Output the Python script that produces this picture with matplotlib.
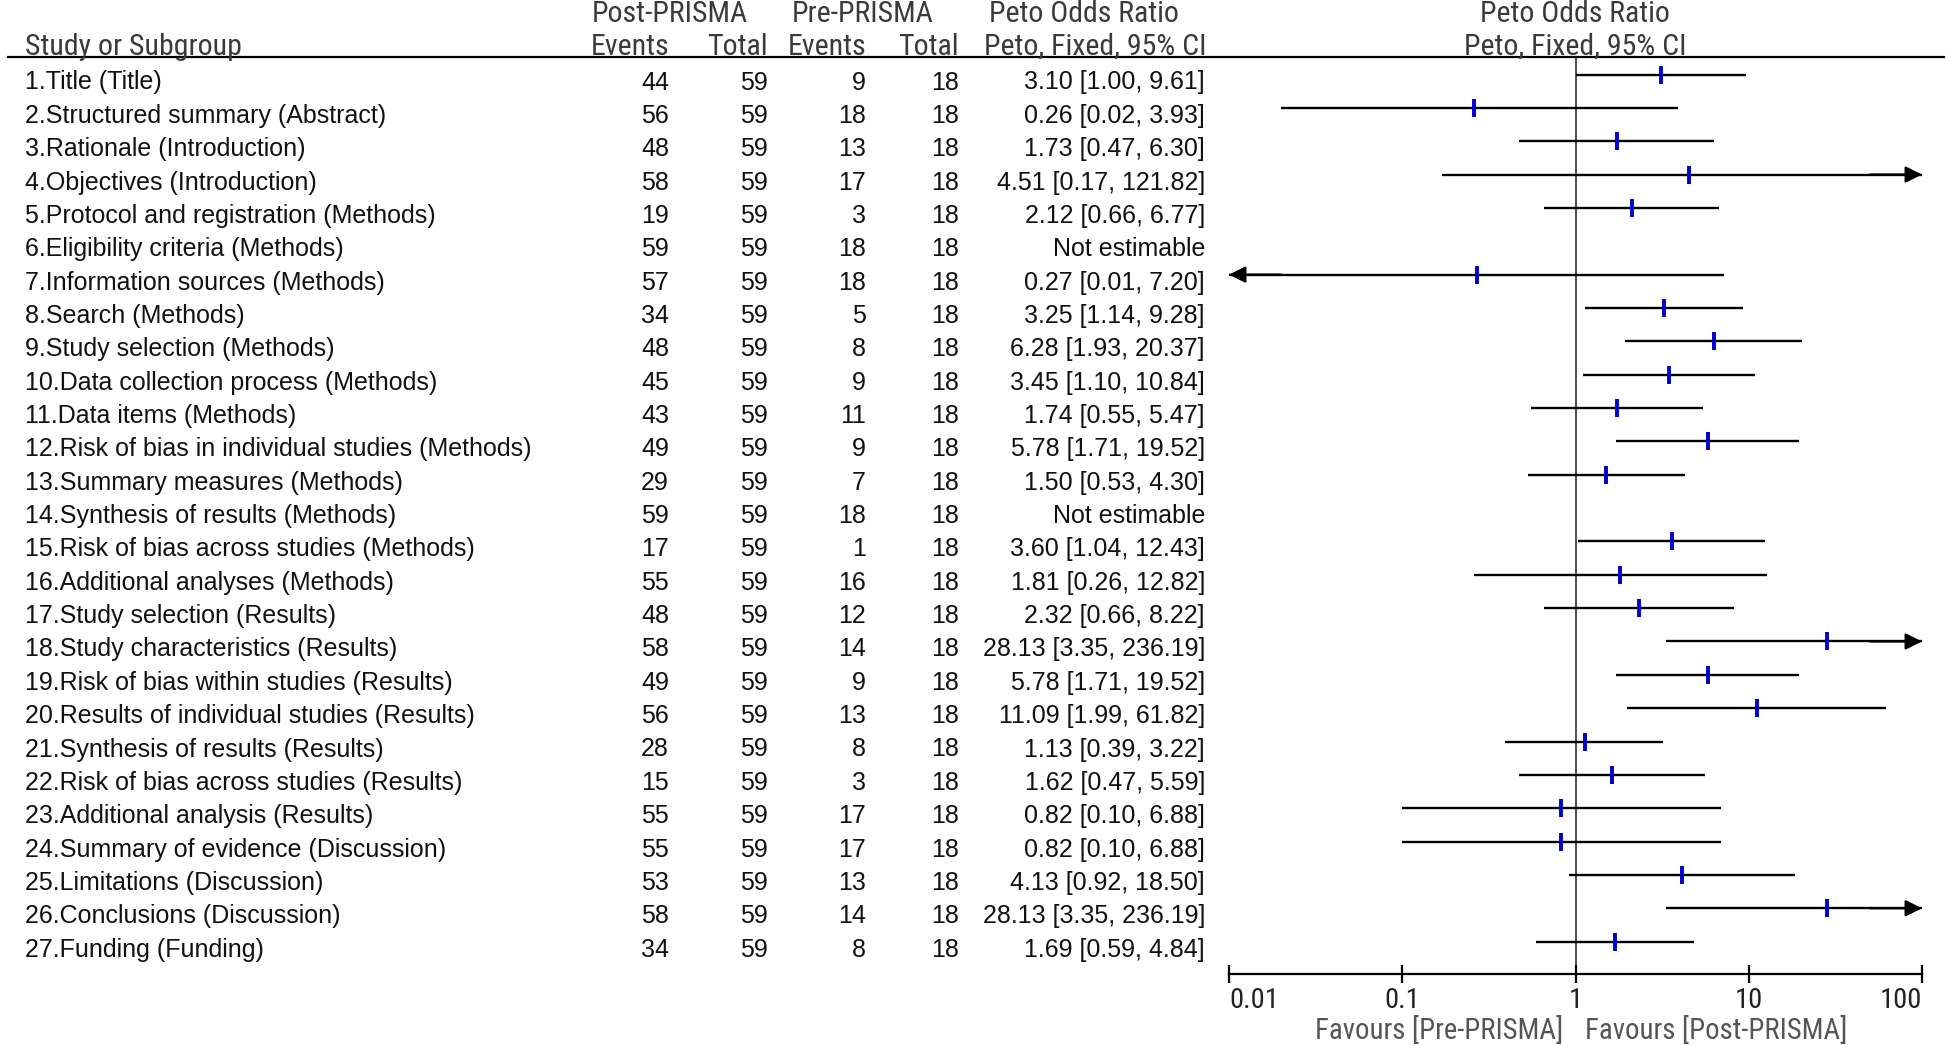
import matplotlib
matplotlib.use("Agg")
import matplotlib.pyplot as plt
from matplotlib import font_manager

# --- data -------------------------------------------------------------
items = [
    "1.Title (Title)",
    "2.Structured summary (Abstract)",
    "3.Rationale (Introduction)",
    "4.Objectives (Introduction)",
    "5.Protocol and registration (Methods)",
    "6.Eligibility criteria (Methods)",
    "7.Information sources (Methods)",
    "8.Search (Methods)",
    "9.Study selection (Methods)",
    "10.Data collection process (Methods)",
    "11.Data items (Methods)",
    "12.Risk of bias in individual studies (Methods)",
    "13.Summary measures (Methods)",
    "14.Synthesis of results (Methods)",
    "15.Risk of bias across studies (Methods)",
    "16.Additional analyses (Methods)",
    "17.Study selection (Results)",
    "18.Study characteristics (Results)",
    "19.Risk of bias within studies (Results)",
    "20.Results of individual studies (Results)",
    "21.Synthesis of results (Results)",
    "22.Risk of bias across studies (Results)",
    "23.Additional analysis (Results)",
    "24.Summary of evidence (Discussion)",
    "25.Limitations (Discussion)",
    "26.Conclusions (Discussion)",
    "27.Funding (Funding)",
]
post_events = [44, 56, 48, 58, 19, 59, 57, 34, 48, 45, 43, 49, 29, 59, 17, 55, 48, 58, 49, 56, 28, 15, 55, 55, 53, 58, 34]
post_total = [59] * 27
pre_events = [9, 18, 13, 17, 3, 18, 18, 5, 8, 9, 11, 9, 7, 18, 1, 16, 12, 14, 9, 13, 8, 3, 17, 17, 13, 14, 8]
pre_total = [18] * 27
odds = [3.10, 0.26, 1.73, 4.51, 2.12, None, 0.27, 3.25, 6.28, 3.45, 1.74, 5.78, 1.50, None, 3.60,
        1.81, 2.32, 28.13, 5.78, 11.09, 1.13, 1.62, 0.82, 0.82, 4.13, 28.13, 1.69]
ci_low = [1.00, 0.02, 0.47, 0.17, 0.66, None, 0.01, 1.14, 1.93, 1.10, 0.55, 1.71, 0.53, None, 1.04,
          0.26, 0.66, 3.35, 1.71, 1.99, 0.39, 0.47, 0.10, 0.10, 0.92, 3.35, 0.59]
ci_high = [9.61, 3.93, 6.30, 121.82, 6.77, None, 7.20, 9.28, 20.37, 10.84, 5.47, 19.52, 4.30, None, 12.43,
           12.82, 8.22, 236.19, 19.52, 61.82, 3.22, 5.59, 6.88, 6.88, 18.50, 236.19, 4.84]
ticks = [0.01, 0.1, 1, 10, 100]
tick_labels = ["0.01", "0.1", "1", "10", "100"]

# --- fonts ------------------------------------------------------------
names = {f.name for f in font_manager.fontManager.ttflist}
body_font = "Liberation Sans" if "Liberation Sans" in names else "DejaVu Sans"

# look for a condensed face for the headers (the original uses Arial Narrow)
narrow_path = None
for f in font_manager.fontManager.ttflist:
    fn = f.fname.lower()
    if ("narrow" in fn or "condensed" in fn) and f.style == "normal" and f.weight in (400, "normal", "regular"):
        if "bold" in fn or "light" in fn or "oblique" in fn or "italic" in fn or "mono" in fn:
            continue
        narrow_path = f.fname
        if "liberation" in fn:
            break

if narrow_path:
    hsize = 21.5
    tsize = 20.5
    def hfont(size):
        return dict(fontproperties=font_manager.FontProperties(fname=narrow_path, size=size))
else:
    hsize = 18.7
    tsize = 17.5
    def hfont(size):
        return dict(fontproperties=font_manager.FontProperties(family=body_font, size=size))

W, H = 1946, 1045
fig = plt.figure(figsize=(W / 100, H / 100), dpi=100)
fig.patch.set_facecolor("white")

# pixel-coordinate axes for the table part
ax_t = fig.add_axes([0, 0, 1, 1])
ax_t.set_xlim(0, W)
ax_t.set_ylim(H, 0)
ax_t.axis("off")

text_row0, step = 82.5, 33.35
mark_row0 = 74.5
head_col = "#3a3a3a"
bsize = 18

# header
ax_t.text(25, 47, "Study or Subgroup", color=head_col, va="center", **hfont(hsize))
ax_t.text(670, 14, "Post-PRISMA", color=head_col, va="center", ha="center", **hfont(hsize))
ax_t.text(863, 14, "Pre-PRISMA", color=head_col, va="center", ha="center", **hfont(hsize))
ax_t.text(1084, 14, "Peto Odds Ratio", color=head_col, va="center", ha="center", **hfont(hsize))
for x, s in [(669, "Events"), (768, "Total"), (866, "Events"), (959, "Total"), (1206, "Peto, Fixed, 95% CI")]:
    ax_t.text(x, 47, s, color=head_col, va="center", ha="right", **hfont(hsize))
ax_t.text(1575, 14, "Peto Odds Ratio", color=head_col, va="center", ha="center", **hfont(hsize))
ax_t.text(1575, 47, "Peto, Fixed, 95% CI", color=head_col, va="center", ha="center", **hfont(hsize))
ax_t.plot([8, 1944], [57, 57], color="black", lw=1.6)

# rows
for i, name in enumerate(items):
    y = text_row0 + step * i
    kw = dict(fontsize=bsize, family=body_font, color="#111111", va="center")
    ax_t.text(25, y, name, ha="left", **kw)
    ax_t.text(669, y, str(post_events[i]), ha="right", **kw)
    ax_t.text(768, y, str(post_total[i]), ha="right", **kw)
    ax_t.text(866, y, str(pre_events[i]), ha="right", **kw)
    ax_t.text(959, y, str(pre_total[i]), ha="right", **kw)
    if odds[i] is None:
        ci_txt = "Not estimable"
    else:
        ci_txt = f"{odds[i]:.2f} [{ci_low[i]:.2f}, {ci_high[i]:.2f}]"
    ax_t.text(1205, y, ci_txt, ha="right", **kw)

ax_t.text(1563, 1030, "Favours [Pre-PRISMA]", color="#555555", va="center", ha="right", **hfont(hsize - 0.8))
ax_t.text(1585, 1030, "Favours [Post-PRISMA]", color="#555555", va="center", ha="left", **hfont(hsize - 0.8))

# forest axes
x0, x1 = 1229, 1922
y_top, y_bot = 57, 974
ax = fig.add_axes([x0 / W, 1 - y_bot / H, (x1 - x0) / W, (y_bot - y_top) / H])
ax.patch.set_alpha(0)
ax.set_xscale("log")
ax.set_xlim(0.01, 100)
ax.set_ylim((y_bot - mark_row0) / step, (y_top - mark_row0) / step)
for s in ["top", "left", "right"]:
    ax.spines[s].set_visible(False)
ax.spines["bottom"].set_linewidth(1.6)
ax.set_yticks([])
ax.axvline(1, color="#222222", lw=1.1, zorder=1)

arrow = dict(arrowstyle="-|>,head_length=1.0,head_width=0.5", color="black", lw=1.6, shrinkA=0, shrinkB=0)
for i in range(len(items)):
    if odds[i] is None:
        continue
    lo = max(ci_low[i], 0.01)
    hi = min(ci_high[i], 100)
    ax.plot([lo, hi], [i, i], color="black", lw=1.7, solid_capstyle="butt", zorder=2)
    if ci_high[i] >= 100:
        ax.annotate("", xy=(100, i), xytext=(50, i), arrowprops=arrow)
    if ci_low[i] <= 0.01:
        ax.annotate("", xy=(0.01, i), xytext=(0.02, i), arrowprops=arrow)
    ax.plot([odds[i]], [i], marker="|", markersize=13, markeredgewidth=2.8, color="#0000cc", zorder=3)

ax.set_xticks(ticks)
ax.set_xticklabels(tick_labels, color="#222222", **hfont(tsize))
ax.minorticks_off()
ax.tick_params(axis="x", direction="inout", length=13, width=1.6, pad=3)
labs = ax.get_xticklabels()
labs[0].set_ha("left")
labs[-1].set_ha("right")

fig.savefig("out.png", dpi=100, facecolor="white")
